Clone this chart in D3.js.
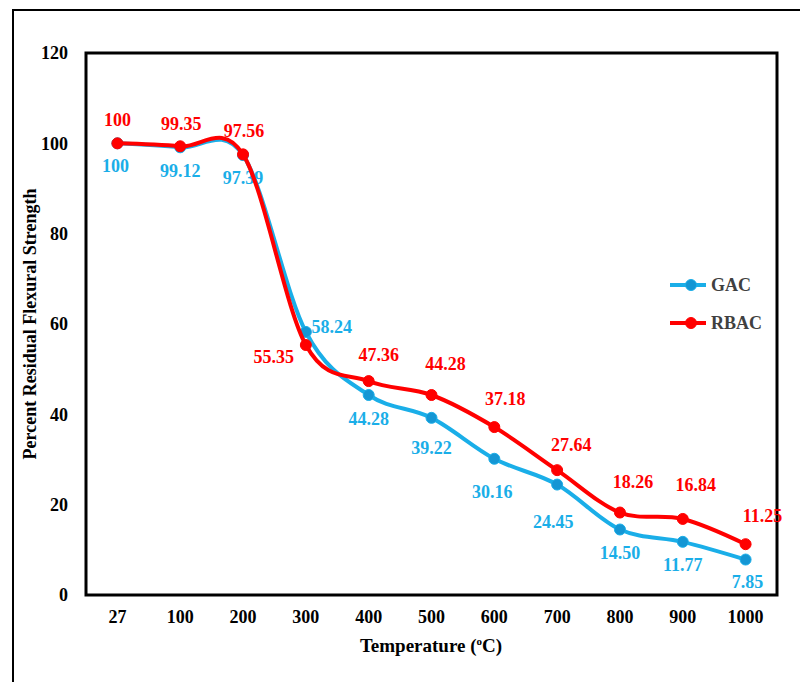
<!DOCTYPE html>
<html><head><meta charset="utf-8">
<script src="https://cdn.jsdelivr.net/npm/d3@7"></script>
<style>body{margin:0;background:#fff}svg{display:block}svg text{font-family:"Liberation Serif","Times New Roman","DejaVu Serif",serif;}</style>
</head><body>
<script>
const categories = ["27","100","200","300","400","500","600","700","800","900","1000"];
const gacValues = [100, 99.12, 97.39, 58.24, 44.28, 39.22, 30.16, 24.45, 14.50, 11.77, 7.85];
const rbacValues = [100, 99.35, 97.56, 55.35, 47.36, 44.28, 37.18, 27.64, 18.26, 16.84, 11.25];
const gacLabels = ["100","99.12","97.39","58.24","44.28","39.22","30.16","24.45","14.50","11.77","7.85"];
const rbacLabels = ["100","99.35","97.56","55.35","47.36","44.28","37.18","27.64","18.26","16.84","11.25"];
const yTicks = [0,20,40,60,80,100,120];

// label offsets (layout only)
const gacOff = [[-2,23],[0,24],[0,23],[26,-5],[0,24],[0,30],[-2,33],[-4,37],[0,23],[0,23],[2,22]];
const rbacOff = [[0,-23],[1,-22],[1,-23],[-32,12],[10,-26],[14,-31],[11,-28],[14,-25],[13,-31],[13,-34],[17,-28]];

const W=800,H=682;
const svg=d3.select("body").append("svg").attr("width",W).attr("height",H);

svg.append("rect").attr("x",13).attr("y",10).attr("width",820).attr("height",700)
  .attr("fill","none").attr("stroke","#000").attr("stroke-width",2);

const L=86,T=53,R=777,B=595;
const x=d3.scaleBand().domain(categories).range([L,R]);
const y=d3.scaleLinear().domain([0,120]).range([B,T]);
const cx=c=>x(c)+x.bandwidth()/2;

const yAx=svg.append("g").attr("transform",`translate(${L},0)`)
  .call(d3.axisLeft(y).tickValues(yTicks).tickSize(0).tickPadding(18));
yAx.select(".domain").remove();
yAx.attr("font-family",null);
yAx.selectAll("text").attr("font-weight","bold").attr("font-size",18).attr("fill","#000");

const xAx=svg.append("g").attr("transform",`translate(0,${B})`)
  .call(d3.axisBottom(x).tickSize(0).tickPadding(15));
xAx.select(".domain").remove();
xAx.attr("font-family",null);
xAx.selectAll("text").attr("font-weight","bold").attr("font-size",18).attr("fill","#000");

svg.append("rect").attr("x",L).attr("y",T).attr("width",R-L).attr("height",B-T)
  .attr("fill","none").attr("stroke","#000").attr("stroke-width",3);

svg.append("text").attr("transform","translate(36,324) rotate(-90)").attr("text-anchor","middle")
  .attr("font-weight","bold").attr("font-size",18).attr("fill","#000")
  .text("Percent Residual Flexural Strength");
const xt=svg.append("text").attr("x",431).attr("y",652).attr("text-anchor","middle")
  .attr("font-weight","bold").attr("font-size",19).attr("fill","#000");
xt.append("tspan").text("Temperature (");
xt.append("tspan").attr("font-size",11).attr("dy",-7).text("o");
xt.append("tspan").attr("dy",7).text("C)");

const gacColor="#1aaee8", gacMark="#1496d4", rbacColor="#ff0000";
const line=d3.line().x((d,i)=>cx(categories[i])).y(d=>y(d)).curve(d3.curveCatmullRom.alpha(0));

function series(vals,labels,off,col,mcol){
  svg.append("path").datum(vals).attr("d",line).attr("fill","none").attr("stroke",col).attr("stroke-width",4);
  svg.selectAll(null).data(vals).enter().append("circle")
    .attr("cx",(d,i)=>cx(categories[i])).attr("cy",d=>y(d)).attr("r",5.5)
    .attr("fill",mcol).attr("stroke",col).attr("stroke-width",1);
  svg.selectAll(null).data(vals).enter().append("text")
    .attr("x",(d,i)=>cx(categories[i])+off[i][0]).attr("y",(d,i)=>y(d)+off[i][1])
    .attr("text-anchor","middle").attr("dominant-baseline","central")
    .attr("font-weight","bold").attr("font-size",18).attr("fill",col)
    .text((d,i)=>labels[i]);
}
series(gacValues,gacLabels,gacOff,gacColor,gacMark);
series(rbacValues,rbacLabels,rbacOff,rbacColor,rbacColor);

const leg=[["GAC",gacColor,gacMark,285],["RBAC",rbacColor,rbacColor,323]];
leg.forEach(([name,c,m,ly])=>{
  svg.append("line").attr("x1",670).attr("x2",706).attr("y1",ly).attr("y2",ly).attr("stroke",c).attr("stroke-width",4);
  svg.append("circle").attr("cx",691).attr("cy",ly).attr("r",5.5).attr("fill",m).attr("stroke",c);
  svg.append("text").attr("x",711).attr("y",ly).attr("dominant-baseline","central")
    .attr("font-weight","bold").attr("font-size",18).attr("fill","#404040").text(name);
});
</script>
</body></html>
